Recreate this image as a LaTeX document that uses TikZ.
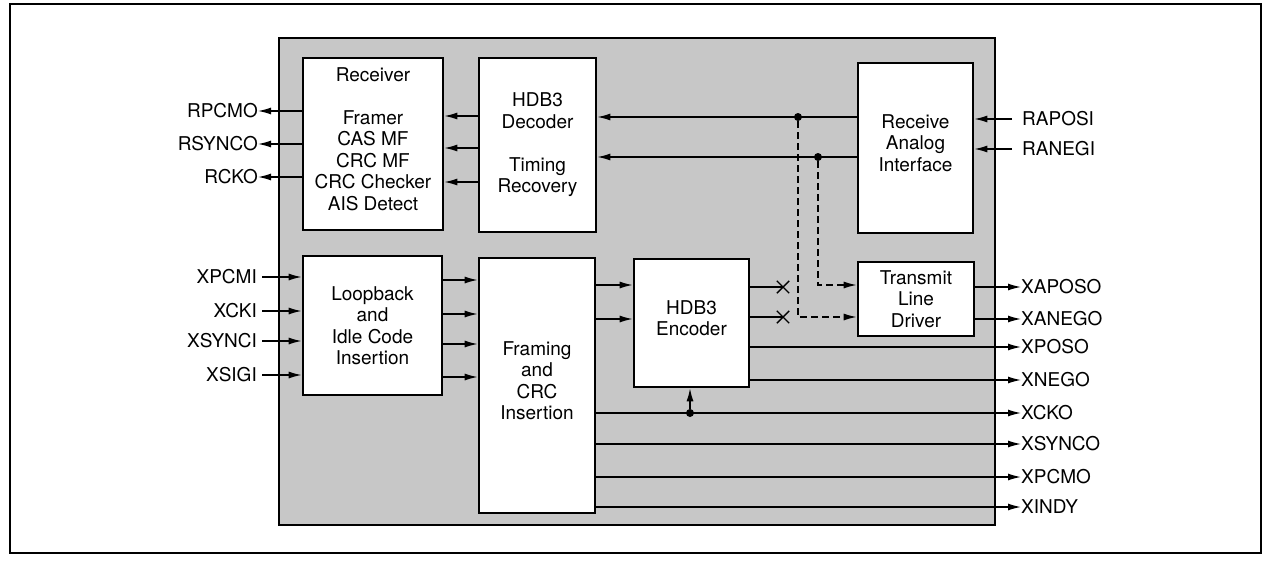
\documentclass[tikz,border=0pt]{standalone}
\usepackage{fontspec}
\setmainfont{TeX Gyre Heros}
\usetikzlibrary{arrows.meta, positioning, shapes.misc}

\begin{document}
\begin{tikzpicture}[x=1pt, y=-1pt, >={Latex[length=13pt, width=7pt]},
    every node/.style={font=\fontsize{19}{21.5}\selectfont},
    block/.style={draw, line width=2.6pt, fill=white, align=center, inner sep=0pt},
    lift/.style={text depth=10pt},
    sig/.style={line width=1.4pt},
    dashline/.style={line width=1.4pt, dash pattern=on 7pt off 4pt},
    outpin/.style={inner sep=0pt},
    inpin/.style={inner ysep=0pt},
    dot/.style={circle, fill=black, inner sep=0pt, minimum size=8pt},
    cut/.style={cross out, draw, line width=1.4pt, minimum size=11pt, inner sep=0pt}]
        \useasboundingbox (0,0) rectangle (1263,562);

        % Frame and chip area
        \draw[line width=2pt] (10,4) rectangle (1261,553);
        \draw[line width=1.2pt, fill=black!22] (279,38) rectangle (995,525);

        % Blocks
        \node[block, lift, minimum width=140pt, minimum height=172pt] (rx) at (373,144)
            {Receiver\\[21.5pt]Framer\\CAS MF\\CRC MF\\CRC Checker\\AIS Detect};
        \node[block, minimum width=117pt, minimum height=174pt] (dec) at (537.5,145)
            {HDB3\\Decoder\\[21.5pt]Timing\\Recovery};
        \node[block, lift, minimum width=115pt, minimum height=170pt] (rai) at (915.5,148)
            {Receive\\Analog\\Interface};
        \node[block, minimum width=139pt, minimum height=139pt] (loop) at (372.5,325.5)
            {Loopback\\and\\Idle Code\\Insertion};
        \node[block, lift, minimum width=116pt, minimum height=255pt] (frm) at (537,385.5)
            {Framing\\and\\CRC\\Insertion};
        \node[block, lift, minimum width=115pt, minimum height=128pt] (enc) at (691.5,323)
            {HDB3\\Encoder};
        \node[block, minimum width=116pt, minimum height=74pt] (tld) at (916,299)
            {Transmit\\Line\\Driver};

        % Pins, left side
        \node[outpin, anchor=east] (RPCMO) at (258,111) {RPCMO};
        \node[outpin, anchor=east] (RSYNCO) at (258,144) {RSYNCO};
        \node[outpin, anchor=east] (RCKO) at (258,177) {RCKO};
        \node[inpin, anchor=east, inner xsep=5pt] (XPCMI) at (262,277) {XPCMI};
        \node[inpin, anchor=east, inner xsep=5pt] (XCKI) at (262,311) {XCKI};
        \node[inpin, anchor=east, inner xsep=5pt] (XSYNCI) at (262,341) {XSYNCI};
        \node[inpin, anchor=east, inner xsep=5pt] (XSIGI) at (262,375) {XSIGI};

        % Pins, right side
        \node[inpin, anchor=west, inner xsep=10pt] (RAPOSI) at (1012,119) {RAPOSI};
        \node[inpin, anchor=west, inner xsep=10pt] (RANEGI) at (1012,149) {RANEGI};
        \node[outpin, anchor=west] (XAPOSO) at (1021,287) {XAPOSO};
        \node[outpin, anchor=west] (XANEGO) at (1021,319) {XANEGO};
        \node[outpin, anchor=west] (XPOSO) at (1021,347) {XPOSO};
        \node[outpin, anchor=west] (XNEGO) at (1021,380) {XNEGO};
        \node[outpin, anchor=west] (XCKO) at (1021,413) {XCKO};
        \node[outpin, anchor=west] (XSYNCO) at (1021,444) {XSYNCO};
        \node[outpin, anchor=west] (XPCMO) at (1021,477) {XPCMO};
        \node[outpin, anchor=west] (XINDY) at (1021,507) {XINDY};

        % Junctions and open links
        \node[dot] (j1) at (798,117) {};
        \node[dot] (j2) at (818,157) {};
        \node[dot] (j3) at (690,413) {};
        \node[cut] (c1) at (783,287) {};
        \node[cut] (c2) at (783,317) {};

        % Receive path
        \draw[->, sig] (RAPOSI.west) -- (rai.east |- RAPOSI);
        \draw[->, sig] (RANEGI.west) -- (rai.east |- RANEGI);
        \draw[->, sig] (rai.west |- j1) -- (dec.east |- j1);
        \draw[->, sig] (rai.west |- j2) -- (dec.east |- j2);
        \draw[->, sig] (dec.west |- 0,116) -- (rx.east |- 0,116);
        \draw[->, sig] (dec.west |- 0,148) -- (rx.east |- 0,148);
        \draw[->, sig] (dec.west |- 0,182) -- (rx.east |- 0,182);
        \draw[->, sig] (rx.west |- RPCMO) -- (RPCMO.east);
        \draw[->, sig] (rx.west |- RSYNCO) -- (RSYNCO.east);
        \draw[->, sig] (rx.west |- RCKO) -- (RCKO.east);

        % Loopback to line driver
        \draw[->, dashline] (j1) -- (j1 |- c2) -- (tld.west |- c2);
        \draw[->, dashline] (j2) -- (j2 |- 0,285) -- (tld.west |- 0,285);

        % Transmit path
        \draw[->, sig] (XPCMI.east) -- (loop.west |- XPCMI);
        \draw[->, sig] (XCKI.east) -- (loop.west |- XCKI);
        \draw[->, sig] (XSYNCI.east) -- (loop.west |- XSYNCI);
        \draw[->, sig] (XSIGI.east) -- (loop.west |- XSIGI);
        \draw[->, sig] (loop.east |- 0,280) -- (frm.west |- 0,280);
        \draw[->, sig] (loop.east |- 0,314) -- (frm.west |- 0,314);
        \draw[->, sig] (loop.east |- 0,344) -- (frm.west |- 0,344);
        \draw[->, sig] (loop.east |- 0,377) -- (frm.west |- 0,377);
        \draw[->, sig] (frm.east |- 0,285) -- (enc.west |- 0,285);
        \draw[->, sig] (frm.east |- 0,319) -- (enc.west |- 0,319);
        \draw[sig] (enc.east |- c1) -- (c1.center);
        \draw[sig] (enc.east |- c2) -- (c2.center);
        \draw[->, sig] (tld.east |- XAPOSO) -- (XAPOSO.west);
        \draw[->, sig] (tld.east |- XANEGO) -- (XANEGO.west);
        \draw[->, sig] (enc.east |- XPOSO) -- (XPOSO.west);
        \draw[->, sig] (enc.east |- XNEGO) -- (XNEGO.west);
        \draw[->, sig] (frm.east |- XCKO) -- (XCKO.west);
        \draw[->, sig] (j3) -- (j3 |- enc.south);
        \draw[->, sig] (frm.east |- XSYNCO) -- (XSYNCO.west);
        \draw[->, sig] (frm.east |- XPCMO) -- (XPCMO.west);
        \draw[->, sig] (frm.east |- XINDY) -- (XINDY.west);
    \end{tikzpicture}
\end{document}
